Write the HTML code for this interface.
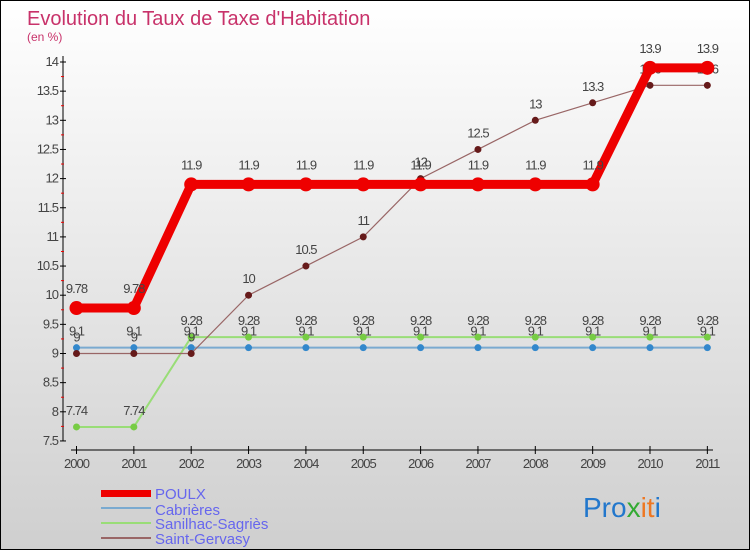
<!DOCTYPE html>
<html><head><meta charset="utf-8"><style>
body{margin:0}
#c{width:748px;height:548px;border:1px solid #000;background:linear-gradient(#ffffff,#cfcfcf);position:relative;overflow:hidden;font-family:"Liberation Sans",sans-serif}
</style></head><body>
<div id="c">
<svg id="s" width="748" height="548" style="position:absolute;left:0;top:0">
<text x="26" y="24" font-size="20" fill="#c8326a">Evolution du Taux de Taxe d'Habitation</text>
<text x="26" y="40" font-size="12" fill="#c8326a">(en %)</text>
<g id="axes"></g><g id="series"></g>
<g>
<rect x="100" y="489" width="50" height="7" fill="#e00"/>
<text x="154" y="498" font-size="15" fill="#6666ee">POULX</text>
<line x1="100" y1="507" x2="150" y2="507" stroke="#7aaad0" stroke-width="2"/>
<text x="154" y="514" font-size="15" fill="#6666ee">Cabrières</text>
<line x1="100" y1="522" x2="150" y2="522" stroke="#99dd77" stroke-width="2"/>
<text x="154" y="528" font-size="15" fill="#6666ee">Sanilhac-Sagriès</text>
<line x1="100" y1="537" x2="150" y2="537" stroke="#996666" stroke-width="2"/>
<text x="154" y="543" font-size="15" fill="#6666ee">Saint-Gervasy</text>
</g>
<text x="582" y="516" font-size="28"><tspan fill="#2277cc">Pro</tspan><tspan fill="#33aa33">x</tspan><tspan fill="#ee7722">it</tspan><tspan fill="#2277cc">i</tspan></text>
</svg>
</div>
<script>
const years=[2000,2001,2002,2003,2004,2005,2006,2007,2008,2009,2010,2011];
const yTicks=[7.5,8,8.5,9,9.5,10,10.5,11,11.5,12,12.5,13,13.5,14];
const poulx=[9.78,9.78,11.9,11.9,11.9,11.9,11.9,11.9,11.9,11.9,13.9,13.9];
const cabrieres=[9.1,9.1,9.1,9.1,9.1,9.1,9.1,9.1,9.1,9.1,9.1,9.1];
const sanilhac=[7.74,7.74,9.28,9.28,9.28,9.28,9.28,9.28,9.28,9.28,9.28,9.28];
const gervasy=[9,9,9,10,10.5,11,12,12.5,13,13.3,13.6,13.6];
const NS='http://www.w3.org/2000/svg';
const X=i=>75.5+i*57.35, Y=v=>61+(14-v)*58.3;
function el(p,t,a){const e=document.createElementNS(NS,t);for(const k in a)e.setAttribute(k,a[k]);p.appendChild(e);return e;}
const ax=document.getElementById('axes'),sr=document.getElementById('series');
let l=el(ax,'line',{x1:62,y1:55,x2:62,y2:440,stroke:'#000'});

l=el(ax,'line',{x1:70,y1:449,x2:712,y2:449,stroke:'#000'});

yTicks.forEach(v=>{const y=Y(v);el(ax,'line',{x1:59,y1:y,x2:65,y2:y,stroke:'#000'});
 if(v<14)el(ax,'line',{x1:60,y1:Y(v+0.25),x2:63,y2:Y(v+0.25),stroke:'#e00'});
 const t=el(ax,'text',{x:57,y:y+4,'font-size':13,fill:'#444','text-anchor':'end','letter-spacing':'-1'});t.textContent=v;
 });
years.forEach((yr,i)=>{el(ax,'line',{x1:X(i),y1:445,x2:X(i),y2:453,stroke:'#000'});
 const t=el(ax,'text',{x:X(i),y:467,'font-size':13,fill:'#444','text-anchor':'middle','letter-spacing':'-1'});t.textContent=yr;
 });
function series(d,col,w,r,dot,name,off){
 const p=el(sr,'polyline',{points:d.map((v,i)=>X(i)+','+Y(v)).join(' '),fill:'none',stroke:col,'stroke-width':w});
 
 d.forEach((v,i)=>{const c=el(sr,'circle',{cx:X(i),cy:Y(v),r:r,fill:dot});
  
  const t=el(sr,'text',{x:X(i),y:Y(v)-off,'font-size':13,fill:'#444','text-anchor':'middle','letter-spacing':'-1'});t.textContent=v;
  });
}
series(cabrieres,'#7aaad0',2,3.5,'#3388cc','cabrieres',12);
series(sanilhac,'#99dd77',2,3.5,'#77cc44','sanilhac',12);
series(gervasy,'#996666',1.2,3.5,'#661a1a','saint-gervasy',12);
series(poulx,'#e00',9,7,'#e00','poulx',15);
</script>
</body></html>
